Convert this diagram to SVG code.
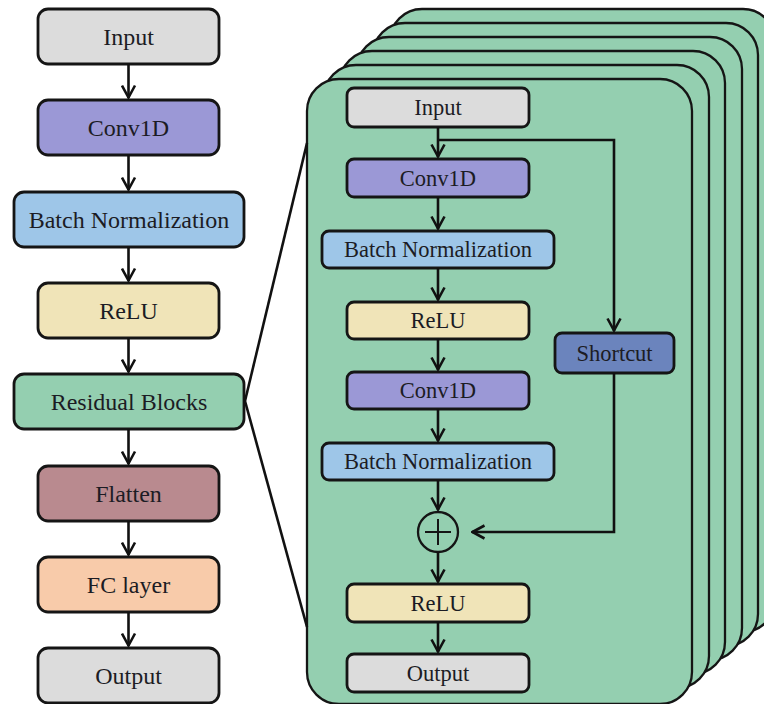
<svg xmlns="http://www.w3.org/2000/svg" width="764" height="704" viewBox="0 0 764 704">
<defs>
<marker id="ah" viewBox="0 0 16 16" refX="14.5" refY="8" markerWidth="16" markerHeight="16" markerUnits="userSpaceOnUse" orient="auto">
<path d="M2,1.5 L14,8 L2,14.5" fill="none" stroke="#111" stroke-width="2.6"/>
</marker>
<style>
.box{stroke:#151515;stroke-width:2.8}
.panel{fill:#94cfb0;stroke:#151515;stroke-width:2.3}
.t{font-family:"Liberation Serif","Times New Roman",serif;fill:#1c1c24;text-anchor:middle}
.L{font-size:24px}
.S{font-size:22.5px}
.c{fill:none;stroke:#111;stroke-width:2.6}
.gray{fill:#dcdcdc}.conv{fill:#9b98d6}.bn{fill:#9ec6e8}.relu{fill:#f0e4b8}.res{fill:#94cfb0}.flat{fill:#b98a8f}.fc{fill:#f8cbaa}.sc{fill:#6b84bd}
</style>
</defs>
<rect width="764" height="704" fill="#fff"/>
<g id="panels">
<rect class="panel" x="390" y="9" width="385" height="623" rx="32"/>
<rect class="panel" x="373" y="23" width="385" height="623" rx="32"/>
<rect class="panel" x="357" y="37" width="385" height="623" rx="32"/>
<rect class="panel" x="340" y="51" width="385" height="623" rx="32"/>
<rect class="panel" x="324" y="65" width="385" height="623" rx="32"/>
<rect class="panel" x="307" y="79" width="385" height="625" rx="32"/>
</g>
<g id="left-nodes">
<g id="l-input"><rect class="box gray" x="38" y="9" width="181" height="55" rx="10"/><text class="t L" x="128.5" y="45">Input</text></g>
<g id="l-conv"><rect class="box conv" x="38" y="100" width="181" height="55" rx="10"/><text class="t L" x="128.5" y="136">Conv1D</text></g>
<g id="l-bn"><rect class="box bn" x="14" y="192" width="230" height="55" rx="10"/><text class="t L" x="129" y="228">Batch Normalization</text></g>
<g id="l-relu"><rect class="box relu" x="38" y="283" width="181" height="55" rx="10"/><text class="t L" x="128.5" y="319">ReLU</text></g>
<g id="l-res"><rect class="box res" x="14" y="374" width="230" height="55" rx="10"/><text class="t L" x="129" y="410">Residual Blocks</text></g>
<g id="l-flat"><rect class="box flat" x="38" y="466" width="181" height="55" rx="10"/><text class="t L" x="128.5" y="502">Flatten</text></g>
<g id="l-fc"><rect class="box fc" x="38" y="557" width="181" height="55" rx="10"/><text class="t L" x="128.5" y="593">FC layer</text></g>
<g id="l-out"><rect class="box gray" x="38" y="648" width="181" height="55" rx="10"/><text class="t L" x="128.5" y="684">Output</text></g>
</g>
<g id="inner-nodes">
<g id="i-input"><rect class="box gray" x="347" y="88" width="182" height="39" rx="7"/><text class="t S" x="438" y="115">Input</text></g>
<g id="i-conv1"><rect class="box conv" x="347" y="159" width="182" height="38" rx="7"/><text class="t S" x="438" y="186">Conv1D</text></g>
<g id="i-bn1"><rect class="box bn" x="322" y="231" width="232" height="37" rx="7"/><text class="t S" x="438" y="257">Batch Normalization</text></g>
<g id="i-relu1"><rect class="box relu" x="347" y="302" width="182" height="37" rx="7"/><text class="t S" x="438" y="328">ReLU</text></g>
<g id="i-conv2"><rect class="box conv" x="347" y="372" width="182" height="37" rx="7"/><text class="t S" x="438" y="398">Conv1D</text></g>
<g id="i-bn2"><rect class="box bn" x="322" y="443" width="232" height="37" rx="7"/><text class="t S" x="438" y="469">Batch Normalization</text></g>
<g id="i-shortcut"><rect class="box sc" x="555" y="333" width="119" height="40" rx="7"/><text class="t S" x="614.5" y="361">Shortcut</text></g>
<g id="i-add"><circle cx="438" cy="532" r="20" fill="none" stroke="#151515" stroke-width="2.3"/><path d="M425,532 H451 M438,519 V545" stroke="#151515" stroke-width="2"/></g>
<g id="i-relu2"><rect class="box relu" x="347" y="584" width="182" height="38" rx="7"/><text class="t S" x="438" y="611">ReLU</text></g>
<g id="i-out"><rect class="box gray" x="347" y="654" width="182" height="38" rx="7"/><text class="t S" x="438" y="681">Output</text></g>
</g>
<g id="connectors">
<path class="c" d="M128.5,64 V98" marker-end="url(#ah)"/>
<path class="c" d="M128.5,155 V190" marker-end="url(#ah)"/>
<path class="c" d="M128.5,247 V281" marker-end="url(#ah)"/>
<path class="c" d="M128.5,338 V372" marker-end="url(#ah)"/>
<path class="c" d="M128.5,429 V464" marker-end="url(#ah)"/>
<path class="c" d="M128.5,521 V555" marker-end="url(#ah)"/>
<path class="c" d="M128.5,612 V646" marker-end="url(#ah)"/>
<path class="c" d="M245,401 L307,143"/>
<path class="c" d="M245,401 L307,627"/>
<path class="c" d="M438,127 V157" marker-end="url(#ah)"/>
<path class="c" d="M438,197 V229" marker-end="url(#ah)"/>
<path class="c" d="M438,268 V300" marker-end="url(#ah)"/>
<path class="c" d="M438,339 V370" marker-end="url(#ah)"/>
<path class="c" d="M438,409 V441" marker-end="url(#ah)"/>
<path class="c" d="M438,480 V510" marker-end="url(#ah)"/>
<path class="c" d="M438,552 V582" marker-end="url(#ah)"/>
<path class="c" d="M438,622 V652" marker-end="url(#ah)"/>
<path class="c" d="M438,140 H614 V331" marker-end="url(#ah)"/>
<path class="c" d="M614,373 V532 H472" marker-end="url(#ah)"/>
</g>
</svg>
